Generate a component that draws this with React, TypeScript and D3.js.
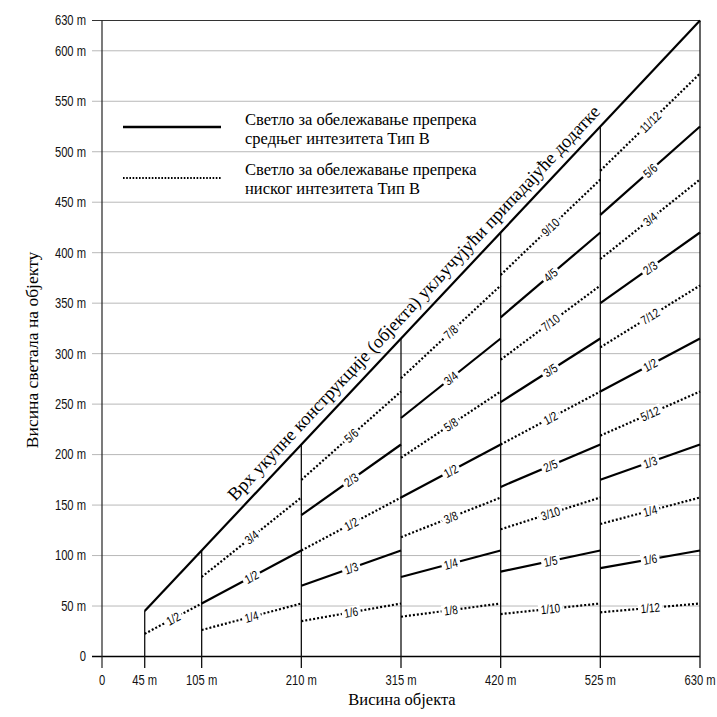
import React, { useEffect, useRef } from 'react';
import * as d3 from 'd3';

// building heights on the x axis, light heights on the y axis (metres)
const X_TICKS = [0, 45, 105, 210, 315, 420, 525, 630];
const X_LABELS = ['0', '45 m', '105 m', '210 m', '315 m', '420 m', '525 m', '630 m'];
const Y_TICKS = [0, 50, 100, 150, 200, 250, 300, 350, 400, 450, 500, 550, 600, 630];
const Y_LABELS = ['0', '50 m', '100 m', '150 m', '200 m', '250 m', '300 m', '350 m', '400 m', '450 m', '500 m', '550 m', '600 m', '630 m'];

// height bands of the object
const BAND_FROM = [45, 105, 210, 315, 420, 525];
const BAND_TO = [105, 210, 315, 420, 525, 630];

// light levels in each band, as fractions of the object height
const BAND_LIGHTS: string[][] = [
  ['1/2'],
  ['1/4', '1/2', '3/4'],
  ['1/6', '1/3', '1/2', '2/3', '5/6'],
  ['1/8', '1/4', '3/8', '1/2', '5/8', '3/4', '7/8'],
  ['1/10', '1/5', '3/10', '2/5', '1/2', '3/5', '7/10', '4/5', '9/10'],
  ['1/12', '1/6', '1/4', '1/3', '5/12', '1/2', '7/12', '2/3', '3/4', '5/6', '11/12'],
];
// 'mid' = medium intensity type B (solid), 'low' = low intensity type B (dotted)
const BAND_TYPES: string[][] = [
  ['low'],
  ['low', 'mid', 'low'],
  ['low', 'mid', 'low', 'mid', 'low'],
  ['low', 'mid', 'low', 'mid', 'low', 'mid', 'low'],
  ['low', 'mid', 'low', 'mid', 'low', 'mid', 'low', 'mid', 'low'],
  ['low', 'mid', 'low', 'mid', 'low', 'mid', 'low', 'mid', 'low', 'mid', 'low'],
];

const TOP_X = [45, 630];
const TOP_Y = [45, 630];

const LEGEND = [
  { type: 'mid', lines: ['Светло за обележавање препрека', 'средњег интезитета Тип B'] },
  { type: 'low', lines: ['Светло за обележавање препрека', 'ниског интезитета Тип B'] },
];

const TOP_LABEL = 'Врх укупне конструкције (објекта) укључујући припадајуће додатке';

const SANS = "'Liberation Sans', Arial, sans-serif";
const SERIF = "'Liberation Serif', 'Times New Roman', serif";
const NARROW = 0.8; // horizontal squeeze to mimic a narrow sans

function frac(s: string) {
  const [a, b] = s.split('/').map(Number);
  return a / b;
}

export default function App() {
  const svgRef = useRef<SVGSVGElement>(null);

  useEffect(() => {
    const svg = d3.select(svgRef.current);
    svg.selectAll('*').remove();

    const x = d3.scaleLinear().domain([0, 630]).range([102, 700]);
    const y = d3.scaleLinear().domain([0, 630]).range([656.5, 20.5]);
    const tickBottom = 668;

    svg.append('rect').attr('width', 717).attr('height', 717).attr('fill', '#fff');

    // horizontal grid
    svg.append('g').selectAll('line')
      .data(Y_TICKS)
      .enter().append('line')
      .attr('x1', 92).attr('x2', x(630))
      .attr('y1', d => y(d)).attr('y2', d => y(d))
      .attr('stroke', d => (d === 0 ? '#000' : d === 630 ? '#333' : '#b8b8b8'))
      .attr('stroke-width', d => (d === 0 ? 1.6 : 1));

    // y tick labels
    svg.append('g').selectAll('text')
      .data(Y_TICKS)
      .enter().append('text')
      .attr('transform', d => `translate(86,${y(d)}) scale(${NARROW},1)`)
      .attr('dy', '0.35em')
      .attr('text-anchor', 'end')
      .attr('font-family', SANS).attr('font-size', 14)
      .attr('fill', '#111')
      .text((d, i) => Y_LABELS[i]);

    // left axis
    svg.append('line')
      .attr('x1', x(0)).attr('x2', x(0))
      .attr('y1', y(630)).attr('y2', tickBottom)
      .attr('stroke', '#222').attr('stroke-width', 1.2);

    // vertical posts at band limits, up to top of structure
    svg.append('g').selectAll('line')
      .data(X_TICKS.filter(d => d > 0))
      .enter().append('line')
      .attr('x1', d => x(d)).attr('x2', d => x(d))
      .attr('y1', tickBottom).attr('y2', d => y(d))
      .attr('stroke', '#111').attr('stroke-width', 1.3);

    // x tick labels
    svg.append('g').selectAll('text')
      .data(X_TICKS)
      .enter().append('text')
      .attr('transform', d => `translate(${x(d)},680) scale(${NARROW},1)`)
      .attr('dy', '0.35em')
      .attr('text-anchor', 'middle')
      .attr('font-family', SANS).attr('font-size', 14)
      .attr('fill', '#111')
      .text((d, i) => X_LABELS[i]);

    // top of structure line
    svg.append('line')
      .attr('x1', x(TOP_X[0])).attr('y1', y(TOP_Y[0]))
      .attr('x2', x(TOP_X[1])).attr('y2', y(TOP_Y[1]))
      .attr('stroke', '#000').attr('stroke-width', 2.2);

    const topAngle = Math.atan2(y(TOP_Y[1]) - y(TOP_Y[0]), x(TOP_X[1]) - x(TOP_X[0])) * 180 / Math.PI;
    const tmx = x(340), tmy = y(340);
    svg.append('text')
      .attr('transform', `translate(${tmx},${tmy}) rotate(${topAngle}) translate(0,-9)`)
      .attr('text-anchor', 'middle')
      .attr('font-family', SERIF).attr('font-size', 18.4)
      .attr('fill', '#000')
      .text(TOP_LABEL);

    // light segments
    const segs: { x0: number; x1: number; f: number; label: string; type: string }[] = [];
    BAND_LIGHTS.forEach((lights, bi) => {
      lights.forEach((l, li) => {
        segs.push({ x0: BAND_FROM[bi], x1: BAND_TO[bi], f: frac(l), label: l, type: BAND_TYPES[bi][li] });
      });
    });

    const segG = svg.append('g');
    segG.selectAll('line')
      .data(segs)
      .enter().append('line')
      .attr('x1', d => x(d.x0)).attr('y1', d => y(d.x0 * d.f))
      .attr('x2', d => x(d.x1)).attr('y2', d => y(d.x1 * d.f))
      .attr('stroke', '#000')
      .attr('stroke-width', 2.2)
      .attr('stroke-dasharray', d => (d.type === 'mid' ? null : '2,2'));

    const labG = svg.append('g');
    segs.forEach(d => {
      const mx = (d.x0 + d.x1) / 2;
      const cx = x(mx), cy = y(mx * d.f);
      const ang = Math.atan2(y(d.x1 * d.f) - y(d.x0 * d.f), x(d.x1) - x(d.x0)) * 180 / Math.PI;
      const g = labG.append('g').attr('transform', `translate(${cx},${cy}) rotate(${ang})`);
      const t = g.append('text')
        .attr('transform', `scale(${NARROW},1)`)
        .attr('text-anchor', 'middle')
        .attr('dy', '0.36em')
        .attr('font-family', SANS).attr('font-size', 12.5)
        .attr('fill', '#000')
        .text(d.label);
      const w = (t.node() as SVGTextElement).getComputedTextLength() * NARROW;
      g.insert('rect', 'text')
        .attr('x', -w / 2 - 2.5).attr('y', -6)
        .attr('width', w + 5).attr('height', 12)
        .attr('fill', '#fff');
    });

    // legend
    const lg = svg.append('g');
    LEGEND.forEach((item, i) => {
      const ly = 127 + i * 50;
      lg.append('rect').attr('x', 115).attr('y', ly - 17).attr('width', 375).attr('height', 34).attr('fill', '#fff');
      lg.append('line')
        .attr('x1', 123).attr('x2', 221)
        .attr('y1', ly + (item.type === 'mid' ? 0 : 1)).attr('y2', ly + (item.type === 'mid' ? 0 : 1))
        .attr('stroke', '#000')
        .attr('stroke-width', item.type === 'mid' ? 2.4 : 2)
        .attr('stroke-dasharray', item.type === 'mid' ? null : '1.6,1.6');
      item.lines.forEach((s, j) => {
        lg.append('text')
          .attr('x', 245).attr('y', ly - 2 + j * 18.5)
          .attr('font-family', SERIF).attr('font-size', 16.5)
          .attr('fill', '#000')
          .text(s);
      });
    });

    // axis titles
    svg.append('text')
      .attr('x', 402).attr('y', 705)
      .attr('text-anchor', 'middle')
      .attr('font-family', SERIF).attr('font-size', 16.5)
      .text('Висина објекта');
    svg.append('text')
      .attr('transform', 'translate(38,350) rotate(-90)')
      .attr('text-anchor', 'middle')
      .attr('font-family', SERIF).attr('font-size', 17.5)
      .text('Висина светала на објекту');
  }, []);

  return (
    <svg ref={svgRef} width={717} height={717} viewBox="0 0 717 717"
      style={{ position: 'absolute', left: 0, top: 0, display: 'block' }} />
  );
}
